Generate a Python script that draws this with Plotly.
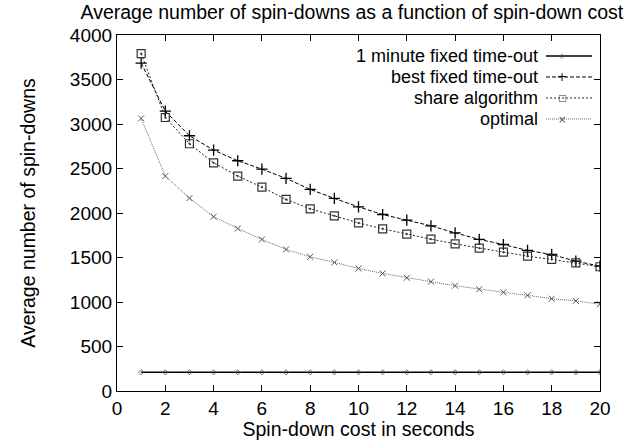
import plotly.graph_objects as go

cost = list(range(1, 21))
one_minute = [210] * 20
best_fixed = [3685, 3145, 2868, 2707, 2587, 2493, 2389, 2265, 2164, 2069,
              1983, 1919, 1856, 1777, 1703, 1646, 1579, 1534, 1459, 1403]
share_alg = [3790, 3073, 2778, 2564, 2415, 2291, 2152, 2047, 1968, 1889,
             1822, 1762, 1706, 1653, 1605, 1560, 1515, 1478, 1440, 1396]
optimal = [3063, 2415, 2167, 1958, 1826, 1703, 1591, 1508, 1445, 1377,
           1321, 1272, 1228, 1183, 1143, 1109, 1075, 1037, 1012, 975]
series_names = ["1 minute fixed time-out", "best fixed time-out",
                "share algorithm", "optimal"]

FONT = "Liberation Sans, Arial, Helvetica, sans-serif"
FS = 19

styles = [
    dict(line=dict(color="black", width=1.5, dash="solid"),
         marker=dict(symbol="diamond-open", size=4, color="#555", line=dict(width=0.8, color="#555"))),
    dict(line=dict(color="black", width=1, dash="4px,2px"),
         marker=dict(symbol="cross-thin-open", size=8, color="black", line=dict(width=1.3, color="black"))),
    dict(line=dict(color="#222", width=1, dash="2px,2px"),
         marker=dict(symbol="square-dot", size=8, color="rgba(0,0,0,0)", line=dict(width=1.2, color="#333"))),
    dict(line=dict(color="#666", width=1, dash="1px,1px"),
         marker=dict(symbol="x-thin-open", size=6, color="#555", line=dict(width=1, color="#555"))),
]

fig = go.Figure()
for name, ys, st in zip(series_names, [one_minute, best_fixed, share_alg, optimal], styles):
    fig.add_trace(go.Scatter(x=cost, y=ys, name=name, mode="lines+markers",
                             line=st["line"], marker=st["marker"], showlegend=False))

# custom gnuplot-style legend: right-aligned labels with line samples on the right
W, H = 634, 440
L, R, T, B = 117, 34, 35, 49
pw, ph = W - L - R, H - T - B
def px_x(p):
    return (p - L) / pw
def px_y(p):
    return (H - B - p) / ph

legend_rows = [56, 77, 98, 119]
sample_glyphs = ["◇", "+", "□", "×"]
glyph_sizes = [7, 12, 9, 10]
annotations = []
shapes = []
for i, (name, st) in enumerate(zip(series_names, styles)):
    yy = px_y(legend_rows[i])
    annotations.append(dict(text=name, xref="paper", yref="paper", x=px_x(540), y=yy,
                            xanchor="right", yanchor="middle", showarrow=False,
                            font=dict(family=FONT, size=18, color="black")))
    shapes.append(dict(type="line", xref="paper", yref="paper",
                       x0=px_x(546), x1=px_x(592), y0=yy, y1=yy,
                       line=dict(color=st["line"]["color"], width=st["line"]["width"],
                                 dash=st["line"]["dash"])))
    annotations.append(dict(text=sample_glyphs[i], xref="paper", yref="paper",
                            x=px_x(562), y=yy, xanchor="center", yanchor="middle",
                            showarrow=False,
                            font=dict(family="DejaVu Sans", size=glyph_sizes[i],
                                      color=st["marker"]["line"]["color"])))

axis_common = dict(showgrid=False, zeroline=False, showline=True, linecolor="black",
                   linewidth=1.2, mirror="ticks", ticks="inside", ticklen=6,
                   tickcolor="black", tickwidth=1.2, automargin=False,
                   tickfont=dict(family=FONT, size=FS, color="black"))

fig.update_layout(
    width=W, height=H,
    margin=dict(l=L, r=R, t=T, b=B),
    paper_bgcolor="white", plot_bgcolor="white",
    title=dict(text="Average number of spin-downs as a function of spin-down cost",
               x=0.555, xanchor="center", y=1 - 12 / H, yanchor="middle",
               font=dict(family=FONT, size=19.5, color="black")),
    xaxis=dict(range=[0, 20], dtick=2, tick0=0,
               title=dict(text="Spin-down cost in seconds", standoff=2,
                          font=dict(family=FONT, size=19.5, color="black")),
               **axis_common),
    yaxis=dict(range=[0, 4000], dtick=500, tick0=0,
               title=dict(text="Average number of spin-downs", standoff=28,
                          font=dict(family=FONT, size=19.5, color="black")),
               **axis_common),
    showlegend=False,
    annotations=annotations,
    shapes=shapes,
)

fig.write_html("out.html", config={"displayModeBar": False},
               post_script="document.body.style.margin='0';")
